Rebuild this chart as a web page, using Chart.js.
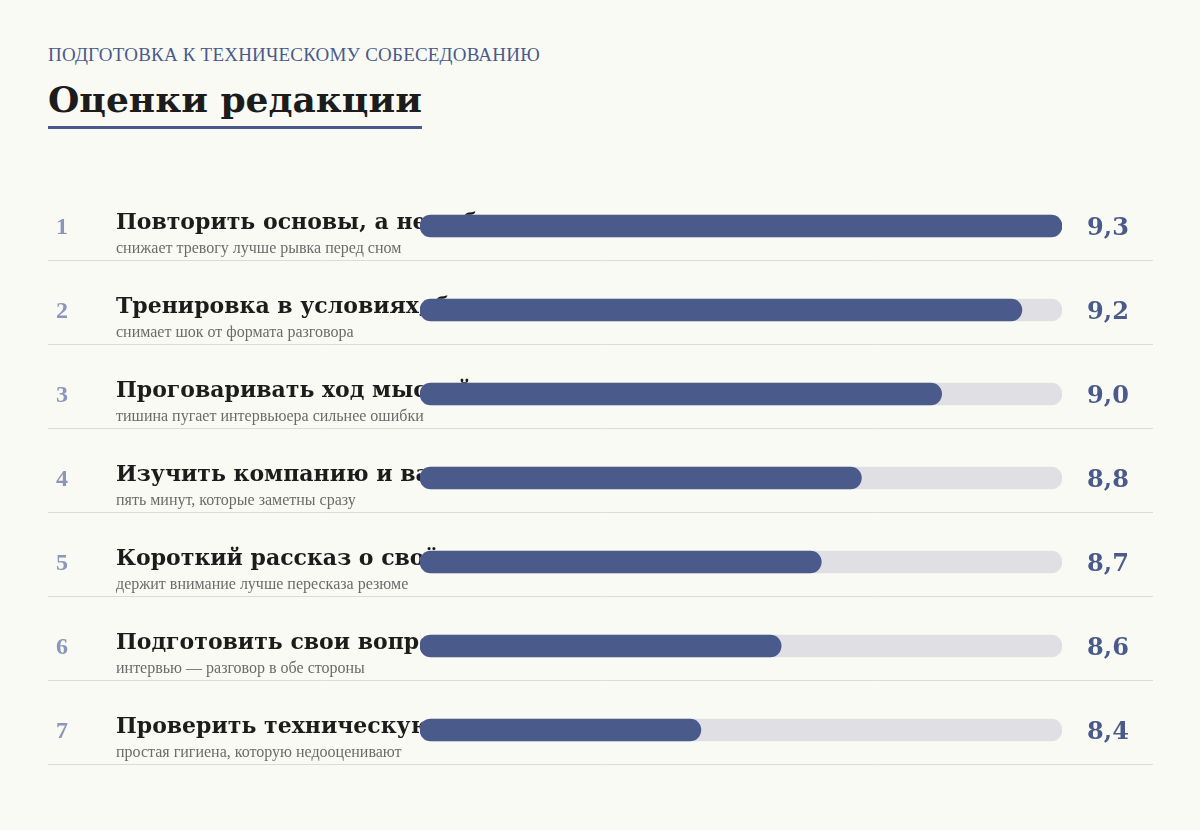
<!DOCTYPE html>
<html>
<head>
<meta charset="utf-8">
<script src="https://cdn.jsdelivr.net/npm/chart.js@4"></script>
<style>
  body { margin: 0; background: #fafaf4; width: 1200px; height: 830px; overflow: hidden; font-family: "DejaVu Serif", serif; }
  .kicker { position: absolute; left: 48px; top: 44px; font-family: "Liberation Serif", serif; font-size: 19px; color: #4a5a8a; letter-spacing: 0.2px; }
  .title { position: absolute; left: 48px; top: 78px; font-family: "DejaVu Serif", serif; font-weight: bold; font-size: 36px; color: #1c1c1c; padding-bottom: 6px; border-bottom: 3px solid #4a5a8a; }
  #wrap { position: absolute; left: 0; top: 0; width: 1200px; height: 830px; }
</style>
</head>
<body>
<div class="kicker">ПОДГОТОВКА К ТЕХНИЧЕСКОМУ СОБЕСЕДОВАНИЮ</div>
<div class="title">Оценки редакции</div>
<div id="wrap"><canvas id="grafico"></canvas></div>
<script>
// ==========================
// Dados
// ==========================
const titulos = [
  "Повторить основы, а не зубрить новое",
  "Тренировка в условиях, близких к реальным",
  "Проговаривать ход мыслей вслух",
  "Изучить компанию и вакансию",
  "Короткий рассказ о своём опыте",
  "Подготовить свои вопросы",
  "Проверить техническую часть"
];
const subtitulos = [
  "снижает тревогу лучше рывка перед сном",
  "снимает шок от формата разговора",
  "тишина пугает интервьюера сильнее ошибки",
  "пять минут, которые заметны сразу",
  "держит внимание лучше пересказа резюме",
  "интервью — разговор в обе стороны",
  "простая гигиена, которую недооценивают"
];
const notas = [9.3, 9.2, 9.0, 8.8, 8.7, 8.6, 8.4];
const escalaMin = 7.7;
const escalaMax = 9.3;

// ==========================
// Textos desenhados no canvas
// ==========================
const textosPlugin = {
  id: "textos",
  beforeDatasetsDraw(chart) {
    const { ctx, scales } = chart;
    ctx.save();
    ctx.textBaseline = "alphabetic";
    titulos.forEach((t, i) => {
      const y = scales.y.getPixelForValue(i);
      ctx.font = "bold 22px 'DejaVu Serif'";
      ctx.fillStyle = "#1c1c1c";
      ctx.textAlign = "left";
      ctx.fillText(t, 116, y + 3);
    });
    ctx.restore();
  },
  afterDraw(chart) {
    const { ctx, scales } = chart;
    ctx.save();
    titulos.forEach((t, i) => {
      const y = scales.y.getPixelForValue(i);
      ctx.textAlign = "left";
      ctx.font = "16px 'Liberation Serif'";
      ctx.fillStyle = "#6b6b6b";
      ctx.fillText(subtitulos[i], 116, y + 27);

      ctx.font = "bold 24px 'Liberation Serif'";
      ctx.fillStyle = "#8a96bb";
      ctx.textAlign = "center";
      ctx.fillText(String(i + 1), 62, y + 8);

      ctx.font = "bold 24px 'DejaVu Serif'";
      ctx.fillStyle = "#4a5a8a";
      ctx.fillText(notas[i].toFixed(1).replace(".", ","), 1108, y + 9);

      ctx.strokeStyle = "#dcdcd6";
      ctx.lineWidth = 1;
      ctx.beginPath();
      ctx.moveTo(48, Math.round(y + 34) + 0.5);
      ctx.lineTo(1153, Math.round(y + 34) + 0.5);
      ctx.stroke();
    });
    ctx.restore();
  }
};

// ==========================
// Gráfico
// ==========================
new Chart(document.getElementById("grafico").getContext("2d"), {
  type: "bar",
  data: {
    labels: titulos,
    datasets: [
      {
        data: notas,
        backgroundColor: "#4a5a8a",
        borderRadius: 11,
        borderSkipped: false,
        barThickness: 22,
        base: escalaMin,
        grouped: false,
        order: 0
      },
      {
        data: notas.map(() => escalaMax),
        backgroundColor: "#e0e0e4",
        borderRadius: 11,
        borderSkipped: false,
        barThickness: 22,
        base: escalaMin,
        grouped: false,
        order: 1
      }
    ]
  },
  options: {
    indexAxis: "y",
    responsive: true,
    maintainAspectRatio: false,
    animation: false,
    layout: { padding: { left: 420, right: 138, top: 184, bottom: 58 } },
    plugins: { legend: { display: false }, tooltip: { enabled: false } },
    scales: {
      x: { display: false, min: escalaMin, max: escalaMax },
      y: { display: false }
    }
  },
  plugins: [textosPlugin]
});
</script>
</body>
</html>
